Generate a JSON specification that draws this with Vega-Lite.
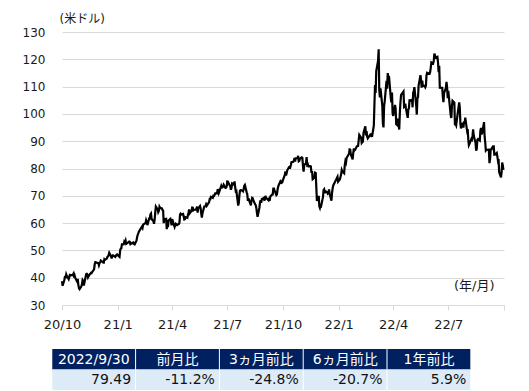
{
"$schema": "https://vega.github.io/schema/vega-lite/v6.json",
"width": 442, "height": 273,
"autosize": {"type": "none"},
"padding": {"left": 62, "top": 32, "right": 25, "bottom": 86},
"background": "white",
"config": {"view": {"stroke": null}},
"datasets": {
"wti": [
{"d":"2020-10-01","v":38.72},{"d":"2020-10-02","v":37.05},{"d":"2020-10-05","v":39.22},{"d":"2020-10-06","v":40.67},{"d":"2020-10-07","v":39.95},{"d":"2020-10-08","v":41.19},{"d":"2020-10-09","v":40.60},{"d":"2020-10-12","v":39.43},{"d":"2020-10-13","v":40.20},{"d":"2020-10-14","v":41.04},{"d":"2020-10-15","v":40.96},{"d":"2020-10-16","v":40.88},{"d":"2020-10-19","v":41.06},{"d":"2020-10-20","v":41.46},{"d":"2020-10-21","v":40.03},{"d":"2020-10-22","v":40.64},{"d":"2020-10-23","v":39.85},{"d":"2020-10-26","v":38.56},{"d":"2020-10-27","v":39.57},{"d":"2020-10-28","v":37.39},{"d":"2020-10-29","v":36.17},{"d":"2020-10-30","v":35.79},
{"d":"2020-11-02","v":36.81},{"d":"2020-11-03","v":37.66},{"d":"2020-11-04","v":39.15},{"d":"2020-11-05","v":38.79},{"d":"2020-11-06","v":37.14},{"d":"2020-11-09","v":40.29},{"d":"2020-11-10","v":41.36},{"d":"2020-11-11","v":41.45},{"d":"2020-11-12","v":41.12},{"d":"2020-11-13","v":40.13},{"d":"2020-11-16","v":41.34},{"d":"2020-11-17","v":41.43},{"d":"2020-11-18","v":41.82},{"d":"2020-11-19","v":41.74},{"d":"2020-11-20","v":42.15},{"d":"2020-11-23","v":43.06},{"d":"2020-11-24","v":44.91},{"d":"2020-11-25","v":45.71},{"d":"2020-11-27","v":45.53},{"d":"2020-11-30","v":45.34},
{"d":"2020-12-01","v":44.55},{"d":"2020-12-02","v":45.28},{"d":"2020-12-03","v":45.64},{"d":"2020-12-04","v":46.26},{"d":"2020-12-07","v":45.76},{"d":"2020-12-08","v":45.60},{"d":"2020-12-09","v":45.52},{"d":"2020-12-10","v":46.78},{"d":"2020-12-11","v":46.57},{"d":"2020-12-14","v":46.99},{"d":"2020-12-15","v":47.62},{"d":"2020-12-16","v":47.82},{"d":"2020-12-17","v":48.36},{"d":"2020-12-18","v":49.10},{"d":"2020-12-21","v":47.74},{"d":"2020-12-22","v":47.02},{"d":"2020-12-23","v":48.12},{"d":"2020-12-24","v":48.23},{"d":"2020-12-28","v":47.62},{"d":"2020-12-29","v":48.00},{"d":"2020-12-30","v":48.40},{"d":"2020-12-31","v":48.52},
{"d":"2021-01-04","v":47.62},{"d":"2021-01-05","v":49.93},{"d":"2021-01-06","v":50.63},{"d":"2021-01-07","v":50.83},{"d":"2021-01-08","v":52.24},{"d":"2021-01-11","v":52.25},{"d":"2021-01-12","v":53.21},{"d":"2021-01-13","v":52.91},{"d":"2021-01-14","v":53.57},{"d":"2021-01-15","v":52.36},{"d":"2021-01-19","v":52.98},{"d":"2021-01-20","v":53.24},{"d":"2021-01-21","v":53.13},{"d":"2021-01-22","v":52.27},{"d":"2021-01-25","v":52.77},{"d":"2021-01-26","v":52.61},{"d":"2021-01-27","v":52.85},{"d":"2021-01-28","v":52.34},{"d":"2021-01-29","v":52.20},
{"d":"2021-02-01","v":53.55},{"d":"2021-02-02","v":54.76},{"d":"2021-02-03","v":55.69},{"d":"2021-02-04","v":56.23},{"d":"2021-02-05","v":56.85},{"d":"2021-02-08","v":57.97},{"d":"2021-02-09","v":58.36},{"d":"2021-02-10","v":58.68},{"d":"2021-02-11","v":58.24},{"d":"2021-02-12","v":59.47},{"d":"2021-02-16","v":60.05},{"d":"2021-02-17","v":61.14},{"d":"2021-02-18","v":60.52},{"d":"2021-02-19","v":59.24},{"d":"2021-02-22","v":61.70},{"d":"2021-02-23","v":61.67},{"d":"2021-02-24","v":63.22},{"d":"2021-02-25","v":63.53},{"d":"2021-02-26","v":61.50},
{"d":"2021-03-01","v":60.64},{"d":"2021-03-02","v":59.75},{"d":"2021-03-03","v":61.28},{"d":"2021-03-04","v":63.83},{"d":"2021-03-05","v":66.09},{"d":"2021-03-08","v":65.05},{"d":"2021-03-09","v":64.01},{"d":"2021-03-10","v":64.44},{"d":"2021-03-11","v":66.02},{"d":"2021-03-12","v":65.61},{"d":"2021-03-15","v":65.39},{"d":"2021-03-16","v":64.80},{"d":"2021-03-17","v":64.60},{"d":"2021-03-18","v":60.00},{"d":"2021-03-19","v":61.42},{"d":"2021-03-22","v":61.55},{"d":"2021-03-23","v":57.76},{"d":"2021-03-24","v":61.18},{"d":"2021-03-25","v":58.56},{"d":"2021-03-26","v":60.97},{"d":"2021-03-29","v":61.56},{"d":"2021-03-30","v":60.55},{"d":"2021-03-31","v":59.16},
{"d":"2021-04-01","v":61.45},{"d":"2021-04-05","v":58.65},{"d":"2021-04-06","v":59.33},{"d":"2021-04-07","v":59.77},{"d":"2021-04-08","v":59.60},{"d":"2021-04-09","v":59.32},{"d":"2021-04-12","v":59.70},{"d":"2021-04-13","v":60.18},{"d":"2021-04-14","v":63.15},{"d":"2021-04-15","v":63.46},{"d":"2021-04-16","v":63.13},{"d":"2021-04-19","v":63.38},{"d":"2021-04-20","v":62.44},{"d":"2021-04-21","v":61.35},{"d":"2021-04-22","v":61.43},{"d":"2021-04-23","v":62.14},{"d":"2021-04-26","v":61.91},{"d":"2021-04-27","v":62.94},{"d":"2021-04-28","v":63.86},{"d":"2021-04-29","v":65.01},{"d":"2021-04-30","v":63.58},
{"d":"2021-05-03","v":64.49},{"d":"2021-05-04","v":65.69},{"d":"2021-05-05","v":65.63},{"d":"2021-05-06","v":64.71},{"d":"2021-05-07","v":64.90},{"d":"2021-05-10","v":64.92},{"d":"2021-05-11","v":65.28},{"d":"2021-05-12","v":66.08},{"d":"2021-05-13","v":63.82},{"d":"2021-05-14","v":65.37},{"d":"2021-05-17","v":66.27},{"d":"2021-05-18","v":65.49},{"d":"2021-05-19","v":63.36},{"d":"2021-05-20","v":62.05},{"d":"2021-05-21","v":63.58},{"d":"2021-05-24","v":66.05},{"d":"2021-05-25","v":66.07},{"d":"2021-05-26","v":66.21},{"d":"2021-05-27","v":66.85},{"d":"2021-05-28","v":66.32},
{"d":"2021-06-01","v":67.72},{"d":"2021-06-02","v":68.83},{"d":"2021-06-03","v":68.81},{"d":"2021-06-04","v":69.62},{"d":"2021-06-07","v":69.23},{"d":"2021-06-08","v":70.05},{"d":"2021-06-09","v":69.96},{"d":"2021-06-10","v":70.29},{"d":"2021-06-11","v":70.91},{"d":"2021-06-14","v":70.88},{"d":"2021-06-15","v":72.12},{"d":"2021-06-16","v":72.15},{"d":"2021-06-17","v":71.04},{"d":"2021-06-18","v":71.64},{"d":"2021-06-21","v":73.66},{"d":"2021-06-22","v":73.06},{"d":"2021-06-23","v":73.08},{"d":"2021-06-24","v":73.30},{"d":"2021-06-25","v":74.05},{"d":"2021-06-28","v":72.91},{"d":"2021-06-29","v":72.98},{"d":"2021-06-30","v":73.47},
{"d":"2021-07-01","v":75.23},{"d":"2021-07-02","v":75.16},{"d":"2021-07-06","v":73.37},{"d":"2021-07-07","v":72.20},{"d":"2021-07-08","v":72.94},{"d":"2021-07-09","v":74.56},{"d":"2021-07-12","v":74.10},{"d":"2021-07-13","v":75.25},{"d":"2021-07-14","v":73.13},{"d":"2021-07-15","v":71.65},{"d":"2021-07-16","v":71.81},{"d":"2021-07-19","v":66.42},{"d":"2021-07-20","v":67.42},{"d":"2021-07-21","v":70.30},{"d":"2021-07-22","v":71.91},{"d":"2021-07-23","v":72.07},{"d":"2021-07-26","v":71.91},{"d":"2021-07-27","v":71.65},{"d":"2021-07-28","v":72.39},{"d":"2021-07-29","v":73.62},{"d":"2021-07-30","v":73.95},
{"d":"2021-08-02","v":71.26},{"d":"2021-08-03","v":70.56},{"d":"2021-08-04","v":68.15},{"d":"2021-08-05","v":69.09},{"d":"2021-08-06","v":68.28},{"d":"2021-08-09","v":66.48},{"d":"2021-08-10","v":68.29},{"d":"2021-08-11","v":69.25},{"d":"2021-08-12","v":69.09},{"d":"2021-08-13","v":68.44},{"d":"2021-08-16","v":66.86},{"d":"2021-08-17","v":66.59},{"d":"2021-08-18","v":65.46},{"d":"2021-08-19","v":63.69},{"d":"2021-08-20","v":62.32},{"d":"2021-08-23","v":65.64},{"d":"2021-08-24","v":67.54},{"d":"2021-08-25","v":68.36},{"d":"2021-08-26","v":67.42},{"d":"2021-08-27","v":68.74},{"d":"2021-08-30","v":69.21},{"d":"2021-08-31","v":68.50},
{"d":"2021-09-01","v":68.59},{"d":"2021-09-02","v":69.99},{"d":"2021-09-03","v":69.29},{"d":"2021-09-07","v":68.35},{"d":"2021-09-08","v":69.30},{"d":"2021-09-09","v":68.14},{"d":"2021-09-10","v":69.72},{"d":"2021-09-13","v":70.45},{"d":"2021-09-14","v":70.46},{"d":"2021-09-15","v":72.61},{"d":"2021-09-16","v":72.61},{"d":"2021-09-17","v":71.97},{"d":"2021-09-20","v":70.29},{"d":"2021-09-21","v":70.56},{"d":"2021-09-22","v":72.23},{"d":"2021-09-23","v":73.30},{"d":"2021-09-24","v":73.98},{"d":"2021-09-27","v":75.45},{"d":"2021-09-28","v":75.29},{"d":"2021-09-29","v":74.83},{"d":"2021-09-30","v":75.03},
{"d":"2021-10-01","v":75.88},{"d":"2021-10-04","v":77.62},{"d":"2021-10-05","v":78.93},{"d":"2021-10-06","v":77.43},{"d":"2021-10-07","v":78.30},{"d":"2021-10-08","v":79.35},{"d":"2021-10-11","v":80.52},{"d":"2021-10-12","v":80.64},{"d":"2021-10-13","v":80.44},{"d":"2021-10-14","v":81.31},{"d":"2021-10-15","v":82.28},{"d":"2021-10-18","v":82.44},{"d":"2021-10-19","v":82.96},{"d":"2021-10-20","v":83.87},{"d":"2021-10-21","v":82.50},{"d":"2021-10-22","v":83.76},{"d":"2021-10-25","v":83.76},{"d":"2021-10-26","v":84.65},{"d":"2021-10-27","v":82.66},{"d":"2021-10-28","v":82.81},{"d":"2021-10-29","v":83.57},
{"d":"2021-11-01","v":84.05},{"d":"2021-11-02","v":83.91},{"d":"2021-11-03","v":80.86},{"d":"2021-11-04","v":78.81},{"d":"2021-11-05","v":81.27},{"d":"2021-11-08","v":81.93},{"d":"2021-11-09","v":84.15},{"d":"2021-11-10","v":81.34},{"d":"2021-11-11","v":81.59},{"d":"2021-11-12","v":80.79},{"d":"2021-11-15","v":80.88},{"d":"2021-11-16","v":80.76},{"d":"2021-11-17","v":78.36},{"d":"2021-11-18","v":79.01},{"d":"2021-11-19","v":76.10},{"d":"2021-11-22","v":76.75},{"d":"2021-11-23","v":78.50},{"d":"2021-11-24","v":78.39},{"d":"2021-11-26","v":68.15},{"d":"2021-11-29","v":69.95},{"d":"2021-11-30","v":66.18},
{"d":"2021-12-01","v":65.57},{"d":"2021-12-02","v":66.50},{"d":"2021-12-03","v":66.26},{"d":"2021-12-06","v":69.49},{"d":"2021-12-07","v":72.05},{"d":"2021-12-08","v":72.36},{"d":"2021-12-09","v":70.94},{"d":"2021-12-10","v":71.67},{"d":"2021-12-13","v":71.29},{"d":"2021-12-14","v":70.73},{"d":"2021-12-15","v":70.87},{"d":"2021-12-16","v":72.38},{"d":"2021-12-17","v":70.86},{"d":"2021-12-20","v":68.23},{"d":"2021-12-21","v":71.12},{"d":"2021-12-22","v":72.76},{"d":"2021-12-23","v":73.79},{"d":"2021-12-27","v":75.57},{"d":"2021-12-28","v":75.98},{"d":"2021-12-29","v":76.56},{"d":"2021-12-30","v":76.99},{"d":"2021-12-31","v":75.21},
{"d":"2022-01-03","v":76.08},{"d":"2022-01-04","v":76.99},{"d":"2022-01-05","v":77.85},{"d":"2022-01-06","v":79.46},{"d":"2022-01-07","v":78.90},{"d":"2022-01-10","v":78.23},{"d":"2022-01-11","v":81.22},{"d":"2022-01-12","v":82.64},{"d":"2022-01-13","v":82.12},{"d":"2022-01-14","v":83.82},{"d":"2022-01-18","v":85.43},{"d":"2022-01-19","v":86.96},{"d":"2022-01-20","v":86.90},{"d":"2022-01-21","v":85.14},{"d":"2022-01-24","v":83.31},{"d":"2022-01-25","v":85.60},{"d":"2022-01-26","v":87.35},{"d":"2022-01-27","v":86.61},{"d":"2022-01-28","v":86.82},{"d":"2022-01-31","v":88.15},
{"d":"2022-02-01","v":88.20},{"d":"2022-02-02","v":88.26},{"d":"2022-02-03","v":90.27},{"d":"2022-02-04","v":92.31},{"d":"2022-02-07","v":91.32},{"d":"2022-02-08","v":89.36},{"d":"2022-02-09","v":89.66},{"d":"2022-02-10","v":89.88},{"d":"2022-02-11","v":93.10},{"d":"2022-02-14","v":95.46},{"d":"2022-02-15","v":92.07},{"d":"2022-02-16","v":93.66},{"d":"2022-02-17","v":91.76},{"d":"2022-02-18","v":91.07},{"d":"2022-02-22","v":92.35},{"d":"2022-02-23","v":92.10},{"d":"2022-02-24","v":92.81},{"d":"2022-02-25","v":91.59},{"d":"2022-02-28","v":95.72},
{"d":"2022-03-01","v":103.41},{"d":"2022-03-02","v":110.60},{"d":"2022-03-03","v":107.67},{"d":"2022-03-04","v":115.68},{"d":"2022-03-07","v":119.40},{"d":"2022-03-08","v":123.70},{"d":"2022-03-09","v":108.70},{"d":"2022-03-10","v":106.02},{"d":"2022-03-11","v":109.33},{"d":"2022-03-14","v":103.01},{"d":"2022-03-15","v":96.44},{"d":"2022-03-16","v":95.04},{"d":"2022-03-17","v":102.98},{"d":"2022-03-18","v":104.70},{"d":"2022-03-21","v":112.12},{"d":"2022-03-22","v":109.27},{"d":"2022-03-23","v":114.93},{"d":"2022-03-24","v":112.34},{"d":"2022-03-25","v":113.90},{"d":"2022-03-28","v":105.96},{"d":"2022-03-29","v":104.24},{"d":"2022-03-30","v":107.82},{"d":"2022-03-31","v":100.28},
{"d":"2022-04-01","v":99.27},{"d":"2022-04-04","v":103.28},{"d":"2022-04-05","v":102.00},{"d":"2022-04-06","v":96.23},{"d":"2022-04-07","v":96.03},{"d":"2022-04-08","v":98.26},{"d":"2022-04-11","v":94.29},{"d":"2022-04-12","v":100.60},{"d":"2022-04-13","v":104.25},{"d":"2022-04-14","v":106.95},{"d":"2022-04-18","v":108.21},{"d":"2022-04-19","v":102.56},{"d":"2022-04-20","v":102.75},{"d":"2022-04-21","v":103.79},{"d":"2022-04-22","v":102.07},{"d":"2022-04-25","v":98.54},{"d":"2022-04-26","v":101.70},{"d":"2022-04-27","v":102.02},{"d":"2022-04-28","v":105.36},{"d":"2022-04-29","v":104.69},
{"d":"2022-05-02","v":105.17},{"d":"2022-05-03","v":102.41},{"d":"2022-05-04","v":107.81},{"d":"2022-05-05","v":108.26},{"d":"2022-05-06","v":109.77},{"d":"2022-05-09","v":103.09},{"d":"2022-05-10","v":99.76},{"d":"2022-05-11","v":105.71},{"d":"2022-05-12","v":106.13},{"d":"2022-05-13","v":110.49},{"d":"2022-05-16","v":114.20},{"d":"2022-05-17","v":112.40},{"d":"2022-05-18","v":109.59},{"d":"2022-05-19","v":112.21},{"d":"2022-05-20","v":110.28},{"d":"2022-05-23","v":110.29},{"d":"2022-05-24","v":109.77},{"d":"2022-05-25","v":110.33},{"d":"2022-05-26","v":114.09},{"d":"2022-05-27","v":115.07},{"d":"2022-05-31","v":114.67},
{"d":"2022-06-01","v":115.26},{"d":"2022-06-02","v":116.87},{"d":"2022-06-03","v":118.87},{"d":"2022-06-06","v":118.50},{"d":"2022-06-07","v":119.41},{"d":"2022-06-08","v":122.11},{"d":"2022-06-09","v":121.51},{"d":"2022-06-10","v":120.67},{"d":"2022-06-13","v":120.93},{"d":"2022-06-14","v":118.93},{"d":"2022-06-15","v":115.31},{"d":"2022-06-16","v":117.59},{"d":"2022-06-17","v":109.56},{"d":"2022-06-21","v":109.52},{"d":"2022-06-22","v":106.19},{"d":"2022-06-23","v":104.27},{"d":"2022-06-24","v":107.62},{"d":"2022-06-27","v":109.57},{"d":"2022-06-28","v":111.76},{"d":"2022-06-29","v":109.78},{"d":"2022-06-30","v":105.76},
{"d":"2022-07-01","v":108.43},{"d":"2022-07-05","v":99.50},{"d":"2022-07-06","v":98.53},{"d":"2022-07-07","v":102.73},{"d":"2022-07-08","v":104.79},{"d":"2022-07-11","v":104.09},{"d":"2022-07-12","v":95.84},{"d":"2022-07-13","v":96.30},{"d":"2022-07-14","v":95.78},{"d":"2022-07-15","v":97.59},{"d":"2022-07-18","v":102.60},{"d":"2022-07-19","v":104.22},{"d":"2022-07-20","v":102.26},{"d":"2022-07-21","v":96.35},{"d":"2022-07-22","v":94.70},{"d":"2022-07-25","v":96.70},{"d":"2022-07-26","v":94.98},{"d":"2022-07-27","v":97.26},{"d":"2022-07-28","v":96.42},{"d":"2022-07-29","v":98.62},
{"d":"2022-08-01","v":93.89},{"d":"2022-08-02","v":94.42},{"d":"2022-08-03","v":90.66},{"d":"2022-08-04","v":88.54},{"d":"2022-08-05","v":89.01},{"d":"2022-08-08","v":90.76},{"d":"2022-08-09","v":90.50},{"d":"2022-08-10","v":91.93},{"d":"2022-08-11","v":94.34},{"d":"2022-08-12","v":92.09},{"d":"2022-08-15","v":89.41},{"d":"2022-08-16","v":86.53},{"d":"2022-08-17","v":87.11},{"d":"2022-08-18","v":90.50},{"d":"2022-08-19","v":90.77},{"d":"2022-08-22","v":90.23},{"d":"2022-08-23","v":93.74},{"d":"2022-08-24","v":94.89},{"d":"2022-08-25","v":92.52},{"d":"2022-08-26","v":93.06},{"d":"2022-08-29","v":97.01},{"d":"2022-08-30","v":91.64},{"d":"2022-08-31","v":89.55},
{"d":"2022-09-01","v":86.61},{"d":"2022-09-02","v":86.87},{"d":"2022-09-06","v":86.88},{"d":"2022-09-07","v":81.94},{"d":"2022-09-08","v":83.54},{"d":"2022-09-09","v":86.79},{"d":"2022-09-12","v":87.78},{"d":"2022-09-13","v":87.31},{"d":"2022-09-14","v":88.48},{"d":"2022-09-15","v":85.10},{"d":"2022-09-16","v":85.11},{"d":"2022-09-19","v":85.73},{"d":"2022-09-20","v":84.45},{"d":"2022-09-21","v":82.94},{"d":"2022-09-22","v":83.49},{"d":"2022-09-23","v":78.74},{"d":"2022-09-26","v":76.71},{"d":"2022-09-27","v":78.50},{"d":"2022-09-28","v":82.15},{"d":"2022-09-29","v":81.23},{"d":"2022-09-30","v":79.49}
],
"tbl": [
{"col":0,"colEnd":1,"header":"2022/9/30","value":"79.49"},
{"col":1,"colEnd":2,"header":"前月比","value":"-11.2%"},
{"col":2,"colEnd":3,"header":"3ヵ月前比","value":"-24.8%"},
{"col":3,"colEnd":4,"header":"6ヵ月前比","value":"-20.7%"},
{"col":4,"colEnd":5,"header":"1年前比","value":"5.9%"}
]
},
"layer": [
{
"data": {"name": "wti"},
"mark": {"type": "line", "color": "#000000", "strokeWidth": 2.2, "strokeJoin": "miter"},
"encoding": {
"x": {"field": "d", "type": "temporal",
"scale": {"type": "utc", "domain": [{"year": 2020, "month": 10, "date": 1, "utc": true}, {"year": 2022, "month": 10, "date": 1, "utc": true}], "nice": false},
"axis": {
"values": [
{"year": 2020, "month": 10, "date": 1, "utc": true},
{"year": 2021, "month": 1, "date": 1, "utc": true},
{"year": 2021, "month": 4, "date": 1, "utc": true},
{"year": 2021, "month": 7, "date": 1, "utc": true},
{"year": 2021, "month": 10, "date": 1, "utc": true},
{"year": 2022, "month": 1, "date": 1, "utc": true},
{"year": 2022, "month": 4, "date": 1, "utc": true},
{"year": 2022, "month": 7, "date": 1, "utc": true},
{"year": 2022, "month": 10, "date": 1, "utc": true}],
"labelExpr": "utcyear(datum.value) == 2022 && utcmonth(datum.value) == 9 ? '' : utcFormat(datum.value, '%y/%-m')",
"grid": false, "domain": true, "domainColor": "#d9d9d9", "domainWidth": 1,
"ticks": true, "tickColor": "#d9d9d9", "tickSize": 5, "tickWidth": 1,
"labelFont": "DejaVu Sans", "labelFontSize": 13, "labelColor": "#1a1a1a", "labelPadding": 8,
"labelOverlap": false, "labelFlush": false,
"title": "(年/月)", "titleFont": "DejaVu Sans, Noto Sans CJK JP", "titleFontSize": 13, "titleFontWeight": "normal", "titleColor": "#1a1a1a",
"titleAnchor": null, "titleAlign": "right", "titleBaseline": "middle", "titleX": 432, "titleY": -20
}},
"y": {"field": "v", "type": "quantitative",
"scale": {"domain": [30, 130], "nice": false, "zero": false},
"axis": {
"values": [30, 40, 50, 60, 70, 80, 90, 100, 110, 120, 130],
"grid": true, "gridColor": "#d9d9d9", "gridWidth": 1,
"domain": false, "ticks": false, "tickSize": 0,
"labelFont": "DejaVu Sans", "labelFontSize": 12, "labelColor": "#1a1a1a", "labelPadding": 17,
"title": "(米ドル)", "titleFont": "DejaVu Sans, Noto Sans CJK JP", "titleFontSize": 12, "titleFontWeight": "normal", "titleColor": "#1a1a1a",
"titleAngle": 0, "titleAnchor": null, "titleAlign": "left", "titleBaseline": "middle", "titleX": -3, "titleY": -14
}}
}
},
{
"data": {"name": "tbl"},
"encoding": {
"x": {"field": "col", "type": "quantitative", "scale": {"domain": [0.116, 5.39], "nice": false, "zero": false}, "axis": null}
},
"layer": [
{
"mark": {"type": "rect", "fill": "#002060", "x2Offset": -1},
"encoding": {"x2": {"field": "colEnd"}, "y": {"datum": 1, "type": "quantitative", "scale": {"domain": [4.146, 17.463], "nice": false, "zero": false}, "axis": null}, "y2": {"datum": 2}}
},
{
"mark": {"type": "rect", "fill": "#DDEBF7", "x2Offset": -1},
"encoding": {"x2": {"field": "colEnd"}, "y": {"datum": 0, "type": "quantitative"}, "y2": {"datum": 1}}
},
{
"mark": {"type": "text", "color": "white", "font": "DejaVu Sans, Noto Sans CJK JP", "fontSize": 14, "align": "center", "baseline": "middle", "dx": 41.5, "dy": 1},
"encoding": {"text": {"field": "header"}, "y": {"datum": 1.5, "type": "quantitative"}}
},
{
"mark": {"type": "text", "color": "#111111", "font": "DejaVu Sans", "fontSize": 14, "align": "right", "baseline": "middle", "dx": -5, "dy": 0},
"encoding": {"x": {"field": "colEnd", "type": "quantitative"}, "text": {"field": "value"}, "y": {"datum": 0.5, "type": "quantitative"}}
}
]
}
],
"resolve": {"scale": {"x": "independent", "y": "independent"}}
}
